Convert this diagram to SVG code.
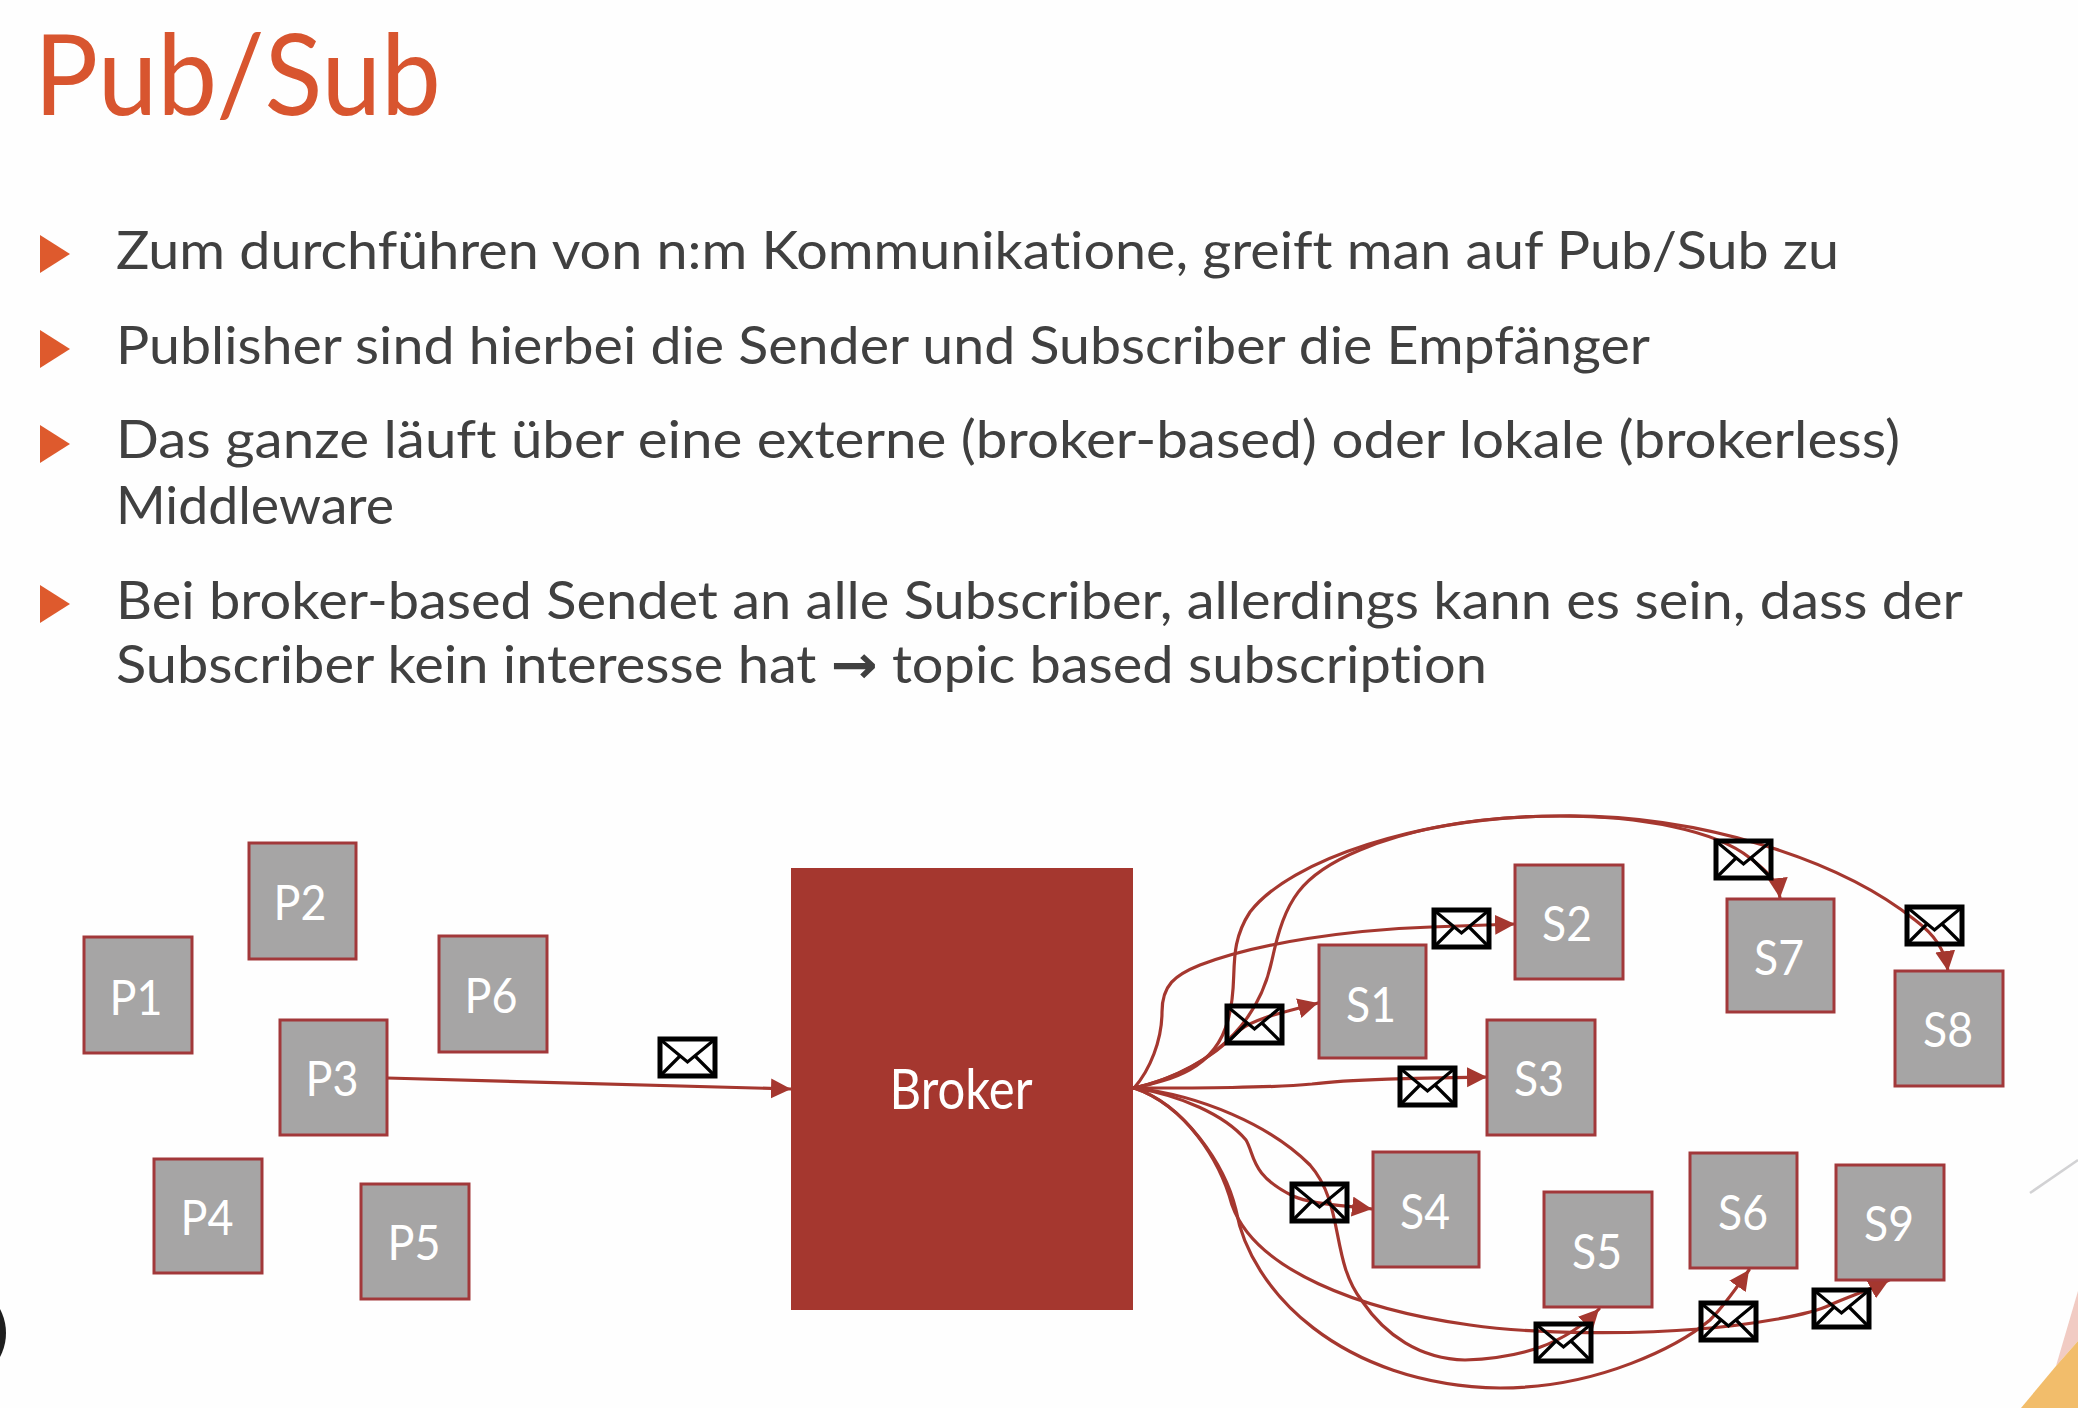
<svg xmlns="http://www.w3.org/2000/svg" xmlns:xlink="http://www.w3.org/1999/xlink" width="2078" height="1408" viewBox="0 0 2078 1408">
<style>
text{font-variant-ligatures:none}
.title{font-family:Lato,"Liberation Sans",sans-serif;font-size:112px;fill:#D8552F}
.body{font-family:Lato,"DejaVu Sans",sans-serif;font-size:53px;fill:#404040}
.arrowglyph{font-family:"DejaVu Sans",sans-serif;font-weight:bold}
.n{fill:#A6A5A5;stroke:#A2383A;stroke-width:3}
.lbl{font-family:Lato,"Liberation Sans",sans-serif;font-size:49px;fill:#fff;text-anchor:middle}
.c{fill:none;stroke:#A5372F;stroke-width:3.2;stroke-linecap:round;stroke-linejoin:round}
.a{marker-end:url(#arr)}
.env{fill:none;stroke:#000;stroke-width:3.2}
.envb{fill:none;stroke:#000;stroke-width:5}
</style>
<defs>
<marker id="arr" markerUnits="userSpaceOnUse" markerWidth="22" markerHeight="22" refX="20" refY="10" orient="auto">
<path d="M0,0 L20,10 L0,20 Z" fill="#A5372F"/>
</marker>
<g id="mail">
<rect class="envb" x="0" y="0" width="55" height="37"/>
<path class="env" d="M1,1 L27.5,23 L54,1 M1,36 L20,17 M54,36 L35,17"/>
</g>
</defs>
<rect width="2078" height="1408" fill="#FEFEFE"/>
<g id="decor">
<path d="M2030,1193 L2078,1160" stroke="#D2D2D4" stroke-width="2.5" fill="none"/>
<path d="M2056,1366 L2078,1291 L2078,1341 Z" fill="#F1CBC3"/>
<path d="M2021,1408 L2056,1366 L2078,1341 L2078,1408 Z" fill="#F2BD6B"/>
<circle cx="-45" cy="1333" r="51" fill="#1E1E1E"/>
</g>
<g id="heading">
<text class="title" x="34" y="115" textLength="407" lengthAdjust="spacingAndGlyphs">Pub/Sub</text>
</g>
<g id="bullets" fill="#DE5A2D">
<path d="M40,235 L70,254 L40,273 Z"/>
<path d="M40,330 L70,349 L40,368 Z"/>
<path d="M40,425 L70,444 L40,463 Z"/>
<path d="M40,585 L70,604 L40,623 Z"/>
</g>
<g id="body-text">
<text class="body" x="116" y="269" textLength="1723" lengthAdjust="spacingAndGlyphs">Zum durchführen von n:m Kommunikatione, greift man auf Pub/Sub zu</text>
<text class="body" x="116" y="364" textLength="1534" lengthAdjust="spacingAndGlyphs">Publisher sind hierbei die Sender und Subscriber die Empfänger</text>
<text class="body" x="116" y="458" textLength="1784" lengthAdjust="spacingAndGlyphs">Das ganze läuft über eine externe (broker-based) oder lokale (brokerless)</text>
<text class="body" x="116" y="524" textLength="278" lengthAdjust="spacingAndGlyphs">Middleware</text>
<text class="body" x="116" y="619" textLength="1847" lengthAdjust="spacingAndGlyphs">Bei broker-based Sendet an alle Subscriber, allerdings kann es sein, dass der</text>
<text class="body" x="116" y="683" textLength="1371" lengthAdjust="spacingAndGlyphs">Subscriber kein interesse hat <tspan class="arrowglyph">→</tspan> topic based subscription</text>
</g>
<g id="connectors">
<path class="c a" d="M387,1078 L791,1089"/>
<path class="c a" d="M1134,1088 C1180,1078 1215,1055 1240,1030 C1255,1018 1285,1012 1318,1003"/>
<path class="c a" d="M1134,1088 C1150,1070 1162,1040 1162,1012 C1162,985 1175,975 1200,965 C1260,942 1350,930 1431,927 L1515,924"/>
<path class="c a" d="M1134,1088 C1200,1088 1270,1088 1312,1084 C1350,1079 1420,1078 1487,1077"/>
<path class="c a" d="M1134,1088 C1170,1080 1215,1070 1228,1020 C1240,980 1225,950 1250,912 C1290,860 1420,816 1560,816 C1640,816 1715,830 1750,858 C1765,870 1778,880 1780,898"/>
<path class="c a" d="M1134,1088 C1190,1075 1255,1040 1272,960 C1285,900 1300,875 1360,850 C1420,825 1490,816 1560,816 C1700,814 1840,860 1915,920 C1935,935 1945,950 1948,971"/>
<path class="c a" d="M1134,1088 C1180,1095 1225,1115 1246,1140 C1255,1155 1250,1175 1293,1196 C1310,1204 1340,1205 1372,1209"/>
<path class="c a" d="M1134,1088 C1200,1095 1270,1125 1310,1165 C1345,1205 1330,1260 1362,1301 C1385,1335 1420,1359 1465,1360 C1520,1358 1565,1345 1599,1309"/>
<path class="c a" d="M1134,1088 C1185,1105 1225,1165 1236,1210 C1250,1290 1340,1385 1500,1388 C1600,1388 1680,1345 1710,1320 C1725,1305 1735,1290 1749,1270"/>
<path class="c a" d="M1134,1088 C1185,1105 1220,1160 1232,1205 C1255,1270 1360,1310 1470,1325 C1540,1335 1640,1334 1699,1329 C1750,1325 1810,1315 1830,1305 C1850,1296 1870,1290 1889,1280"/>
</g>
<g id="messages">
<use xlink:href="#mail" href="#mail" transform="translate(660,1039)"/>
<use xlink:href="#mail" href="#mail" transform="translate(1227,1006)"/>
<use xlink:href="#mail" href="#mail" transform="translate(1434,910)"/>
<use xlink:href="#mail" href="#mail" transform="translate(1400,1068)"/>
<use xlink:href="#mail" href="#mail" transform="translate(1292,1184)"/>
<use xlink:href="#mail" href="#mail" transform="translate(1536,1324)"/>
<use xlink:href="#mail" href="#mail" transform="translate(1701,1303)"/>
<use xlink:href="#mail" href="#mail" transform="translate(1716,841)"/>
<use xlink:href="#mail" href="#mail" transform="translate(1907,907)"/>
<use xlink:href="#mail" href="#mail" transform="translate(1814,1290)"/>
</g>
<g id="P1"><rect class="n" x="84" y="937" width="108" height="116"/><text class="lbl" x="136" y="1015" textLength="53" lengthAdjust="spacingAndGlyphs">P1</text></g>
<g id="P2"><rect class="n" x="249" y="843" width="107" height="116"/><text class="lbl" x="300" y="920" textLength="53" lengthAdjust="spacingAndGlyphs">P2</text></g>
<g id="P3"><rect class="n" x="280" y="1020" width="107" height="115"/><text class="lbl" x="332" y="1096" textLength="53" lengthAdjust="spacingAndGlyphs">P3</text></g>
<g id="P4"><rect class="n" x="154" y="1159" width="108" height="114"/><text class="lbl" x="207" y="1235" textLength="53" lengthAdjust="spacingAndGlyphs">P4</text></g>
<g id="P5"><rect class="n" x="361" y="1184" width="108" height="115"/><text class="lbl" x="414" y="1260" textLength="53" lengthAdjust="spacingAndGlyphs">P5</text></g>
<g id="P6"><rect class="n" x="439" y="936" width="108" height="116"/><text class="lbl" x="491" y="1013" textLength="53" lengthAdjust="spacingAndGlyphs">P6</text></g>
<g id="Broker"><rect x="791" y="868" width="342" height="442" fill="#A5372F"/><text class="lbl" x="961" y="1109" textLength="143" lengthAdjust="spacingAndGlyphs" style="font-size:56px">Broker</text></g>
<g id="S1"><rect class="n" x="1319" y="945" width="107" height="113"/><text class="lbl" x="1371" y="1022" textLength="50" lengthAdjust="spacingAndGlyphs">S1</text></g>
<g id="S2"><rect class="n" x="1515" y="865" width="108" height="114"/><text class="lbl" x="1567" y="941" textLength="50" lengthAdjust="spacingAndGlyphs">S2</text></g>
<g id="S3"><rect class="n" x="1487" y="1020" width="108" height="115"/><text class="lbl" x="1539" y="1096" textLength="50" lengthAdjust="spacingAndGlyphs">S3</text></g>
<g id="S4"><rect class="n" x="1373" y="1152" width="106" height="115"/><text class="lbl" x="1425" y="1229" textLength="50" lengthAdjust="spacingAndGlyphs">S4</text></g>
<g id="S5"><rect class="n" x="1544" y="1192" width="108" height="115"/><text class="lbl" x="1597" y="1269" textLength="50" lengthAdjust="spacingAndGlyphs">S5</text></g>
<g id="S6"><rect class="n" x="1690" y="1153" width="107" height="115"/><text class="lbl" x="1743" y="1230" textLength="50" lengthAdjust="spacingAndGlyphs">S6</text></g>
<g id="S7"><rect class="n" x="1727" y="899" width="107" height="113"/><text class="lbl" x="1779" y="975" textLength="50" lengthAdjust="spacingAndGlyphs">S7</text></g>
<g id="S8"><rect class="n" x="1895" y="971" width="108" height="115"/><text class="lbl" x="1948" y="1047" textLength="50" lengthAdjust="spacingAndGlyphs">S8</text></g>
<g id="S9"><rect class="n" x="1836" y="1165" width="108" height="115"/><text class="lbl" x="1889" y="1241" textLength="50" lengthAdjust="spacingAndGlyphs">S9</text></g>
</svg>
